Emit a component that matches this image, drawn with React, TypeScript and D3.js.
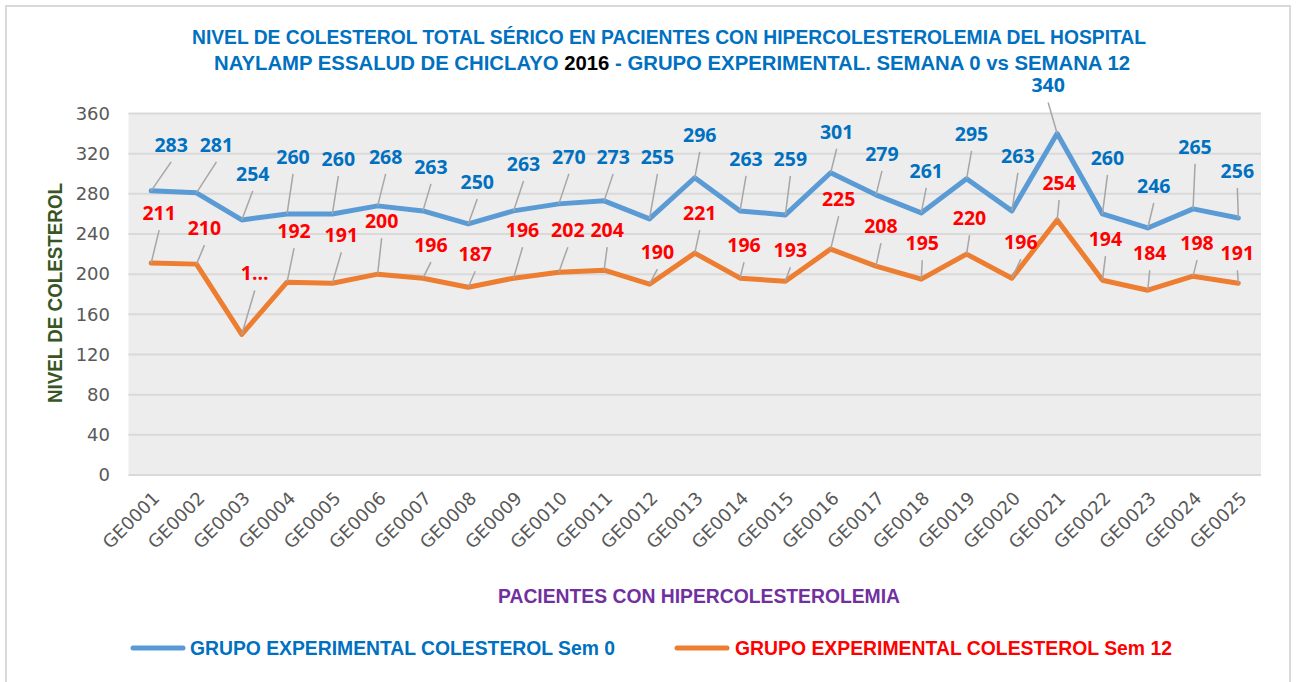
import React from 'react';
import * as d3 from 'd3';

const patients = [
  'GE0001', 'GE0002', 'GE0003', 'GE0004', 'GE0005', 'GE0006', 'GE0007', 'GE0008', 'GE0009',
  'GE0010', 'GE0011', 'GE0012', 'GE0013', 'GE0014', 'GE0015', 'GE0016', 'GE0017', 'GE0018',
  'GE0019', 'GE0020', 'GE0021', 'GE0022', 'GE0023', 'GE0024', 'GE0025',
];
const sem0 = [283, 281, 254, 260, 260, 268, 263, 250, 263, 270, 273, 255, 296, 263, 259, 301, 279, 261, 295, 263, 340, 260, 246, 265, 256];
const sem12 = [211, 210, 140, 192, 191, 200, 196, 187, 196, 202, 204, 190, 221, 196, 193, 225, 208, 195, 220, 196, 254, 194, 184, 198, 191];
// labels that Excel cut short
const sem12Text = sem12.map((v, i) => (i === 2 ? '1...' : String(v)));
const yTicks = [0, 40, 80, 120, 160, 200, 240, 280, 320, 360];

// where each data label was dragged to, relative to its point (px)
const sem0LabelShift = [
  [20, -46], [20, -48], [11, -46], [6, -57], [6, -55], [8, -49], [8, -44], [9, -42], [10, -47],
  [10, -47], [9, -44], [8, -62], [5, -43], [6, -52], [5, -56], [6, -41], [6, -41], [5, -42],
  [5, -45], [6, -55], [-9, -48], [5, -56], [6, -42], [2, -62], [-1, -47],
];
const sem12LabelShift = [
  [8, -50], [8, -36], [13, -61], [7, -51], [9, -48], [4, -53], [8, -33], [7, -33], [9, -48],
  [9, -42], [3, -40], [8, -32], [5, -40], [4, -33], [5, -31], [8, -50], [5, -40], [1, -36],
  [3, -36], [9, -36], [2, -37], [3, -41], [2, -37], [4, -33], [-1, -30],
];

const W = 1296;
const H = 682;
const plot = { left: 128.5, right: 1261, top: 113.5, bottom: 475 };
const narrow = '"Liberation Sans Narrow", "Liberation Sans", Arial, sans-serif';
const tickFont = '"DejaVu Sans", sans-serif';
const labelFont = '"Open Sans", "Liberation Sans", sans-serif';

const x = d3.scaleBand<string>().domain(patients).range([plot.left, plot.right]).padding(0);
const cx = (p: string) => (x(p) as number) + x.bandwidth() / 2;
const y = d3.scaleLinear().domain([0, 360]).range([plot.bottom, plot.top]);

const line = d3.line<number>()
  .x((_, i) => cx(patients[i]))
  .y((d) => y(d));

function Labels({ values, texts, shifts, color }: any) {
  return (
    <g>
      {values.map((v: number, i: number) => {
        const px = cx(patients[i]);
        const py = y(v);
        const lx = px + shifts[i][0];
        const ly = py + shifts[i][1];
        const ex = lx;
        const ey = ly + 17;
        const len = Math.hypot(ex - px, ey - py);
        return (
          <g key={i}>
            {len > 8 && (
              <line x1={px} y1={py} x2={ex} y2={ey} stroke="#a6a6a6" strokeWidth={1.5} />
            )}
            <text x={lx} y={ly} dy="0.35em" textAnchor="middle" fill={color}
              fontFamily={labelFont} fontWeight={700} fontSize={19.5}>
              {texts[i]}
            </text>
          </g>
        );
      })}
    </g>
  );
}

export default function App() {
  return (
    <svg width={W} height={H} style={{ position: 'absolute', left: 0, top: 0, background: '#fff' }}>
      <rect x={6} y={6} width={1284} height={700} fill="#fff" stroke="#d9d9d9" strokeWidth={2} />

      {/* title */}
      <text x={669} y={44} textAnchor="middle" fill="#0070c0" fontFamily={narrow} fontWeight={700}
        fontSize={20} textLength={954} lengthAdjust="spacingAndGlyphs">
        NIVEL DE COLESTEROL TOTAL SÉRICO EN PACIENTES CON HIPERCOLESTEROLEMIA DEL HOSPITAL
      </text>
      <text x={672} y={70} textAnchor="middle" fill="#0070c0" fontFamily={narrow} fontWeight={700}
        fontSize={20} textLength={916} lengthAdjust="spacingAndGlyphs">
        NAYLAMP ESSALUD DE CHICLAYO <tspan fill="#000">2016</tspan> - GRUPO EXPERIMENTAL. SEMANA 0 vs SEMANA 12
      </text>

      {/* plot area */}
      <rect x={plot.left} y={plot.top} width={plot.right - plot.left} height={plot.bottom - plot.top} fill="#ededed" />
      {yTicks.map((t) => (
        <g key={t}>
          <line x1={plot.left} x2={plot.right} y1={y(t)} y2={y(t)} stroke="#d9d9d9" strokeWidth={2} />
          <text x={110} y={y(t)} dy="0.35em" textAnchor="end" fill="#595959" fontFamily={tickFont} fontSize={18}>
            {t}
          </text>
        </g>
      ))}

      {patients.map((p) => (
        <text key={p} transform={`translate(${cx(p) + 5},${495}) rotate(-45)`} textAnchor="end" dy="0.35em"
          fill="#595959" fontFamily={tickFont} fontSize={18}>
          {p}
        </text>
      ))}

      <path d={line(sem0) as string} fill="none" stroke="#5b9bd5" strokeWidth={5} strokeLinejoin="round" strokeLinecap="round" />
      <path d={line(sem12) as string} fill="none" stroke="#ed7d31" strokeWidth={5} strokeLinejoin="round" strokeLinecap="round" />

      <Labels values={sem0} texts={sem0.map(String)} shifts={sem0LabelShift} color="#0070c0" />
      <Labels values={sem12} texts={sem12Text} shifts={sem12LabelShift} color="#ff0000" />

      {/* axis titles */}
      <text transform="translate(62,293) rotate(-90)" textAnchor="middle" fill="#375623" fontFamily={narrow}
        fontWeight={700} fontSize={20} textLength={220} lengthAdjust="spacingAndGlyphs">
        NIVEL DE COLESTEROL
      </text>
      <text x={699} y={603} textAnchor="middle" fill="#7030a0" fontFamily={narrow} fontWeight={700}
        fontSize={20} textLength={402} lengthAdjust="spacingAndGlyphs">
        PACIENTES CON HIPERCOLESTEROLEMIA
      </text>

      {/* legend */}
      <line x1={133} x2={183} y1={648} y2={648} stroke="#5b9bd5" strokeWidth={5} strokeLinecap="round" />
      <text x={190} y={655} fill="#0070c0" fontFamily={narrow} fontWeight={700} fontSize={20}
        textLength={425} lengthAdjust="spacingAndGlyphs">
        GRUPO EXPERIMENTAL COLESTEROL Sem 0
      </text>
      <line x1={677} x2={727} y1={648} y2={648} stroke="#ed7d31" strokeWidth={5} strokeLinecap="round" />
      <text x={735} y={655} fill="#ff0000" fontFamily={narrow} fontWeight={700} fontSize={20}
        textLength={437} lengthAdjust="spacingAndGlyphs">
        GRUPO EXPERIMENTAL COLESTEROL Sem 12
      </text>
    </svg>
  );
}
